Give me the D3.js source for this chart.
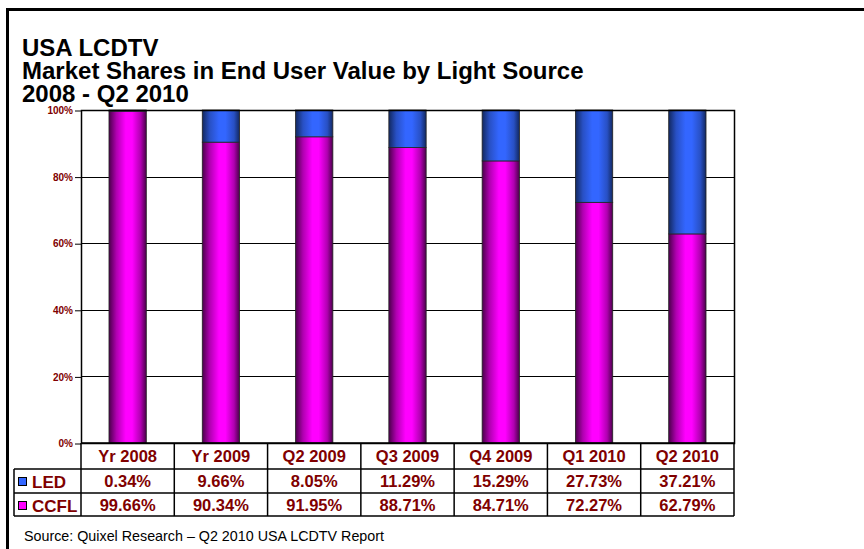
<!DOCTYPE html>
<html>
<head>
<meta charset="utf-8">
<script src="https://cdn.jsdelivr.net/npm/d3@7"></script>
<style>
  body { margin: 0; background: #fff; }
  svg { display: block; font-family: Arial, "Liberation Sans", sans-serif; }
</style>
</head>
<body>
<div class="svg-container"></div>
<script>
"use strict";

var categories = ["Yr 2008", "Yr 2009", "Q2 2009", "Q3 2009", "Q4 2009", "Q1 2010", "Q2 2010"];
var led = [0.34, 9.66, 8.05, 11.29, 15.29, 27.73, 37.21];
var ccfl = [99.66, 90.34, 91.95, 88.71, 84.71, 72.27, 62.79];
var yTicks = [0, 20, 40, 60, 80, 100];
var titleLines = ["USA LCDTV", "Market Shares in End User Value by Light Source", "2008 - Q2 2010"];

var width = 864, height = 549;
var plotL = 81, plotR = 734, plotT = 110, plotB = 443;
var rowH = [26, 24, 23];
var darkRed = "#800000";

var svg = d3.select(".svg-container").append("svg")
    .attr("width", width).attr("height", height);

// gradients for the cylinder look
var defs = svg.append("defs");
function grad(id, dark, mid, light) {
  var g = defs.append("linearGradient").attr("id", id)
      .attr("x1", "0%").attr("x2", "100%").attr("y1", "0%").attr("y2", "0%");
  g.append("stop").attr("offset", "0%").attr("stop-color", dark);
  g.append("stop").attr("offset", "20%").attr("stop-color", mid);
  g.append("stop").attr("offset", "45%").attr("stop-color", light);
  g.append("stop").attr("offset", "62%").attr("stop-color", light);
  g.append("stop").attr("offset", "85%").attr("stop-color", mid);
  g.append("stop").attr("offset", "100%").attr("stop-color", dark);
}
grad("gCcfl", "#4a004a", "#b000b0", "#ff00ff");
grad("gLed", "#122860", "#2850c4", "#3366ff");

// outer frame
svg.append("path")
    .attr("d", "M7.5," + height + "V9.5H" + (width + 5))
    .attr("fill", "none").attr("stroke", "#000").attr("stroke-width", 3);

// title
svg.append("g").selectAll("text")
    .data(titleLines).enter().append("text")
    .attr("x", 22)
    .attr("y", function(d, i) { return 56 + i * 23; })
    .attr("font-size", 24).attr("font-weight", "bold").attr("fill", "#000")
    .text(function(d) { return d; });

var x = d3.scaleBand().domain(categories).range([plotL, plotR]).paddingInner(0.6).paddingOuter(0.3);
var xCol = d3.scaleBand().domain(categories).range([plotL, plotR]);
var y = d3.scaleLinear().domain([0, 100]).range([plotB, plotT]);

// gridlines
svg.append("g").selectAll("line")
    .data(yTicks).enter().append("line")
    .attr("x1", plotL).attr("x2", plotR)
    .attr("y1", function(d) { return Math.round(y(d)) + 0.5; })
    .attr("y2", function(d) { return Math.round(y(d)) + 0.5; })
    .attr("stroke", "#000").attr("stroke-width", 1);

// y axis
var yAxis = svg.append("g")
    .attr("transform", "translate(" + plotL + ",0.5)")
    .call(d3.axisLeft(y).tickValues(yTicks).tickSize(6).tickPadding(2)
      .tickFormat(function(d) { return d + "%"; }));
yAxis.select(".domain").remove();
yAxis.selectAll("line").attr("stroke", "#000");
yAxis.selectAll("text")
    .attr("font-family", "Arial, 'Liberation Sans', sans-serif")
    .attr("font-size", 10).attr("font-weight", "bold").attr("fill", darkRed);

// stacked bars
var rows = categories.map(function(c, i) { return { cat: c, CCFL: ccfl[i], LED: led[i] }; });
var stack = d3.stack().keys(["CCFL", "LED"])(rows);
var fills = { CCFL: "url(#gCcfl)", LED: "url(#gLed)" };

svg.append("g").selectAll("g")
    .data(stack).enter().append("g")
    .attr("fill", function(d) { return fills[d.key]; })
    .selectAll("rect")
    .data(function(d) { return d; }).enter().append("rect")
    .attr("x", function(d) { return x(d.data.cat); })
    .attr("width", x.bandwidth())
    .attr("y", function(d) { return y(d[1]); })
    .attr("height", function(d) { return y(d[0]) - y(d[1]); })
    .attr("stroke", "#222").attr("stroke-width", 0.8);

// plot border
svg.append("rect")
    .attr("x", plotL + 0.5).attr("y", plotT + 0.5)
    .attr("width", plotR - plotL).attr("height", plotB - plotT)
    .attr("fill", "none").attr("stroke", "#000").attr("stroke-width", 1.5);

// data table
var table = svg.append("g");
var y0 = plotB, y1 = plotB + rowH[0], y2 = y1 + rowH[1], y3 = y2 + rowH[2];
var tLeft = 14;
var lines = [
  [plotL, y0, plotR, y0], [tLeft, y1, plotR, y1], [tLeft, y2, plotR, y2], [tLeft, y3, plotR, y3],
  [tLeft, y1, tLeft, y3], [plotL, y0, plotL, y3]
];
categories.forEach(function(c) {
  lines.push([xCol(c) + xCol.bandwidth(), y0, xCol(c) + xCol.bandwidth(), y3]);
});
table.selectAll("line").data(lines).enter().append("line")
    .attr("x1", function(d) { return d[0]; }).attr("y1", function(d) { return d[1]; })
    .attr("x2", function(d) { return d[2]; }).attr("y2", function(d) { return d[3]; })
    .attr("stroke", "#000").attr("stroke-width", 1.5);

function cellText(vals, yBase, fmt) {
  table.append("g").selectAll("text")
      .data(vals).enter().append("text")
      .attr("x", function(d, i) { return xCol(categories[i]) + xCol.bandwidth() / 2; })
      .attr("y", yBase)
      .attr("text-anchor", "middle")
      .attr("font-size", 16.5).attr("font-weight", "bold").attr("fill", darkRed)
      .text(fmt);
}
cellText(categories, y0 + 19, function(d) { return d; });
cellText(led, y1 + 18, function(d) { return d.toFixed(2) + "%"; });
cellText(ccfl, y2 + 18, function(d) { return d.toFixed(2) + "%"; });

// legend keys in the table
var legend = [{ name: "LED", fill: "#3366ff", y: y1 }, { name: "CCFL", fill: "#ff00ff", y: y2 }];
legend.forEach(function(l) {
  table.append("rect")
      .attr("x", 18.5).attr("y", l.y + 8.5).attr("width", 8).attr("height", 8)
      .attr("fill", l.fill).attr("stroke", "#000").attr("stroke-width", 1);
  table.append("text")
      .attr("x", 32).attr("y", l.y + 19)
      .attr("font-size", 17).attr("font-weight", "bold").attr("fill", darkRed)
      .text(l.name);
});

// source note
svg.append("text")
    .attr("x", 24).attr("y", 541)
    .attr("font-size", 14.3).attr("fill", "#000")
    .text("Source: Quixel Research \u2013 Q2 2010 USA LCDTV Report");
</script>
</body>
</html>
